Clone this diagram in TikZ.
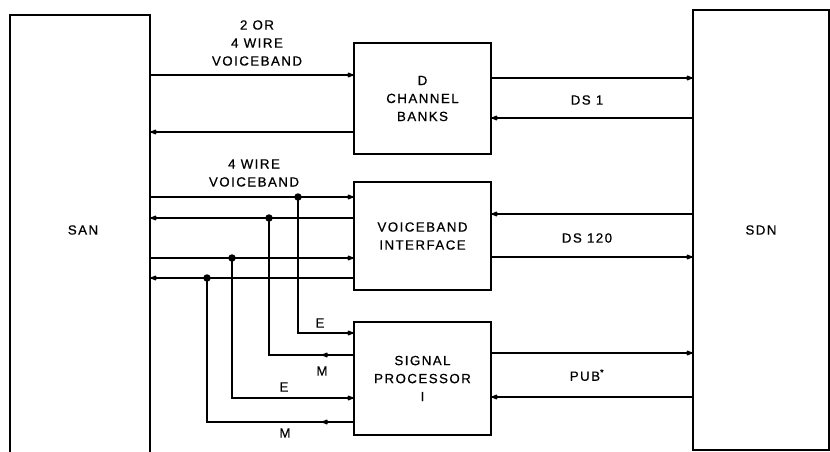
\documentclass[tikz,border=0pt]{standalone}
\usepackage{fontspec}
\setmainfont{Liberation Sans}[LetterSpace=11,FakeBold=0.6]
\usetikzlibrary{arrows.meta}
\begin{document}
\begin{tikzpicture}[x=1pt,y=-1pt,
  txt/.style={font=\fontsize{13.3}{18}\selectfont},
  box/.style={draw, line width=1.3pt, inner sep=0pt, align=center, txt},
  lbl/.style={inner sep=0pt, align=center, txt},
  conn/.style={line width=2.2pt},
  arr/.style={conn, -{Latex[length=8.5pt,width=6pt,round]}},
  dot/.style={circle, fill, inner sep=0pt, minimum size=7.5pt}]
\useasboundingbox (0,0) rectangle (830,452);
\fill[white] (0,0) rectangle (830,452);
\clip (0,0) rectangle (830,452);

% blocks
\node[box, minimum width=140pt, minimum height=445pt] (san) at (80,237.5) {};
\node[lbl] (santext) at (83,230) {SAN};
\node[box, minimum width=136pt, minimum height=440pt] (sdn) at (761,230) {SDN};
\node[box, minimum width=137pt, minimum height=111pt] (dcb) at (422.5,98.5) {D\\CHANNEL\\BANKS};
\node[box, minimum width=137pt, minimum height=108pt] (vi) at (422.5,236) {VOICEBAND\\INTERFACE};
\node[box, minimum width=137pt, minimum height=113pt] (sp) at (422.5,378.5) {SIGNAL\\PROCESSOR\\I};

% D channel banks
\draw[arr] (san.east |- 0,75) -- (dcb.west |- 0,75);
\draw[arr] (dcb.west |- 0,132) -- (san.east |- 0,132);
\draw[arr] (dcb.east |- 0,78) -- (sdn.west |- 0,78);
\draw[arr] (sdn.west |- 0,118) -- (dcb.east |- 0,118);
\node[lbl] (l2or) at (257,43) {2 OR\\4 WIRE\\VOICEBAND};
\node[lbl] (lds1) at (587,100) {DS 1};

% voiceband interface
\draw[arr] (san.east |- 0,197) -- (vi.west |- 0,197);
\draw[arr] (vi.west |- 0,218) -- (san.east |- 0,218);
\draw[arr] (san.east |- 0,258) -- (vi.west |- 0,258);
\draw[arr] (vi.west |- 0,278) -- (san.east |- 0,278);
\draw[arr] (sdn.west |- 0,214) -- (vi.east |- 0,214);
\draw[arr] (vi.east |- 0,257) -- (sdn.west |- 0,257);
\node[lbl] (l4w) at (254,173) {4 WIRE\\VOICEBAND};
\node[lbl] (lds120) at (587,238) {DS 120};

% signal processor
\draw[arr] (sp.east |- 0,353) -- (sdn.west |- 0,353);
\draw[arr] (sdn.west |- 0,397) -- (sp.east |- 0,397);
\node[lbl] (lpub) at (587,375) {PUB\textsuperscript{*}};

% E & M leads
\node[dot] (j1) at (298,197) {};
\node[dot] (j2) at (269,218) {};
\node[dot] (j3) at (232,258) {};
\node[dot] (j4) at (207,278) {};
\coordinate (m1) at (322,355);
\coordinate (m2) at (322,422);
\draw[arr] (j1.center) |- (sp.west |- 0,333);
\draw[conn] (j2.center) |- (sp.west |- 0,355);
\draw[arr] (sp.west |- 0,355) -- (m1);
\draw[arr] (j3.center) |- (sp.west |- 0,398);
\draw[conn] (j4.center) |- (sp.west |- 0,422);
\draw[arr] (sp.west |- 0,422) -- (m2);
\node[lbl] (le1) at (320,323) {E};
\node[lbl] (lm1) at (322,371) {M};
\node[lbl] (le2) at (284,387) {E};
\node[lbl] (lm2) at (285,433) {M};
\end{tikzpicture}
\end{document}
